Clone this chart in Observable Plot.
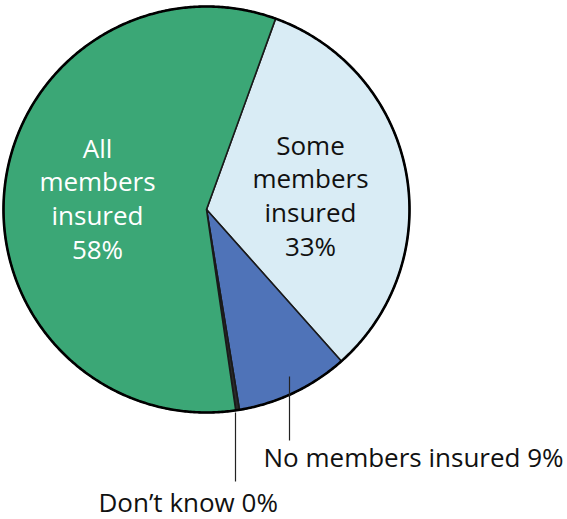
<!DOCTYPE html>
<html>
<head>
<meta charset="utf-8">
<script src="https://cdn.jsdelivr.net/npm/d3@7"></script>
<script src="https://cdn.jsdelivr.net/npm/@observablehq/plot@0.6"></script>
<style>
  html, body { margin: 0; padding: 0; background: #fff; }
  #chart svg { display: block; overflow: visible; }
</style>
</head>
<body>
<div id="chart"></div>
<script>
// ---- data ----
const categories = ["Some members insured", "No members insured", "Don’t know", "All members insured"];
const shares = [33, 9, 0.3, 58];
const labelTexts = ["Some\nmembers\ninsured\n33%", "No members insured 9%", "Don’t know 0%", "All\nmembers\ninsured\n58%"];

// ---- layout ----
const W = 567, H = 519;
const cx = 206, cy = 209, R = 203;
const startDeg = 19.9;
const toUx = px => (px - cx) / R;
const toUy = py => (cy - py) / R;

const arcs = d3.pie().sort(null).value(d => d.share)
  .startAngle(startDeg * Math.PI / 180)
  .endAngle(startDeg * Math.PI / 180 + 2 * Math.PI)(
    categories.map((c, i) => ({cat: c, share: shares[i], label: labelTexts[i]}))
  );

const wedgePts = [];
for (const a of arcs) {
  const c = a.data.cat;
  wedgePts.push({cat: c, x: 0, y: 0});
  const n = Math.max(2, Math.ceil((a.endAngle - a.startAngle) / 0.005));
  for (let k = 0; k <= n; k++) {
    const t = a.startAngle + (a.endAngle - a.startAngle) * k / n;
    wedgePts.push({cat: c, x: Math.sin(t), y: Math.cos(t)});
  }
  wedgePts.push({cat: c, x: 0, y: 0});
}
const ring = d3.range(0, 721).map(k => ({x: Math.sin(k * Math.PI / 360), y: Math.cos(k * Math.PI / 360)}));

const byCat = Object.fromEntries(arcs.map(a => [a.data.cat, a.data]));
const fs = 26;
const inside = [
  {d: byCat["All members insured"], px: 97, py: 197, color: "#fff"},
  {d: byCat["Some members insured"], px: 310, py: 194, color: "#111"}
];
const outside = [
  {d: byCat["No members insured"], px: 263, py: 458, lx: 289, ly1: 376, ly2: 440},
  {d: byCat["Don’t know"], px: 98, py: 503, lx: 235, ly1: 412, ly2: 481}
];

const chart = Plot.plot({
  width: W, height: H,
  margin: 0,
  x: {domain: [-1, 1], range: [cx - R, cx + R], axis: null},
  y: {domain: [-1, 1], range: [cy + R, cy - R], axis: null},
  color: {domain: categories, range: ["#d9ecf5", "#4f73b8", "#2a2a2a", "#3ba776"]},
  style: {fontFamily: "'Open Sans', sans-serif", background: "#fff"},
  marks: [
    Plot.line(wedgePts, {x: "x", y: "y", z: "cat", fill: "cat", stroke: "#1a1a1a", strokeWidth: 1.6, curve: "linear"}),
    Plot.line(ring, {x: "x", y: "y", stroke: "#000", strokeWidth: 2.6, fill: "none"}),
    Plot.text(inside, {x: d => toUx(d.px), y: d => toUy(d.py), text: d => d.d.label, fill: d => d.color,
      fontSize: fs, lineHeight: 1.3, textAnchor: "middle", lineAnchor: "middle"}),
    Plot.link(outside, {x1: d => toUx(d.lx), x2: d => toUx(d.lx), y1: d => toUy(d.ly1), y2: d => toUy(d.ly2), stroke: "#222", strokeWidth: 1.2}),
    Plot.text(outside, {x: d => toUx(d.px), y: d => toUy(d.py), text: d => d.d.label, fill: "#111",
      fontSize: fs, textAnchor: "start", lineAnchor: "middle"})
  ]
});
document.getElementById("chart").appendChild(chart);
</script>
</body>
</html>
